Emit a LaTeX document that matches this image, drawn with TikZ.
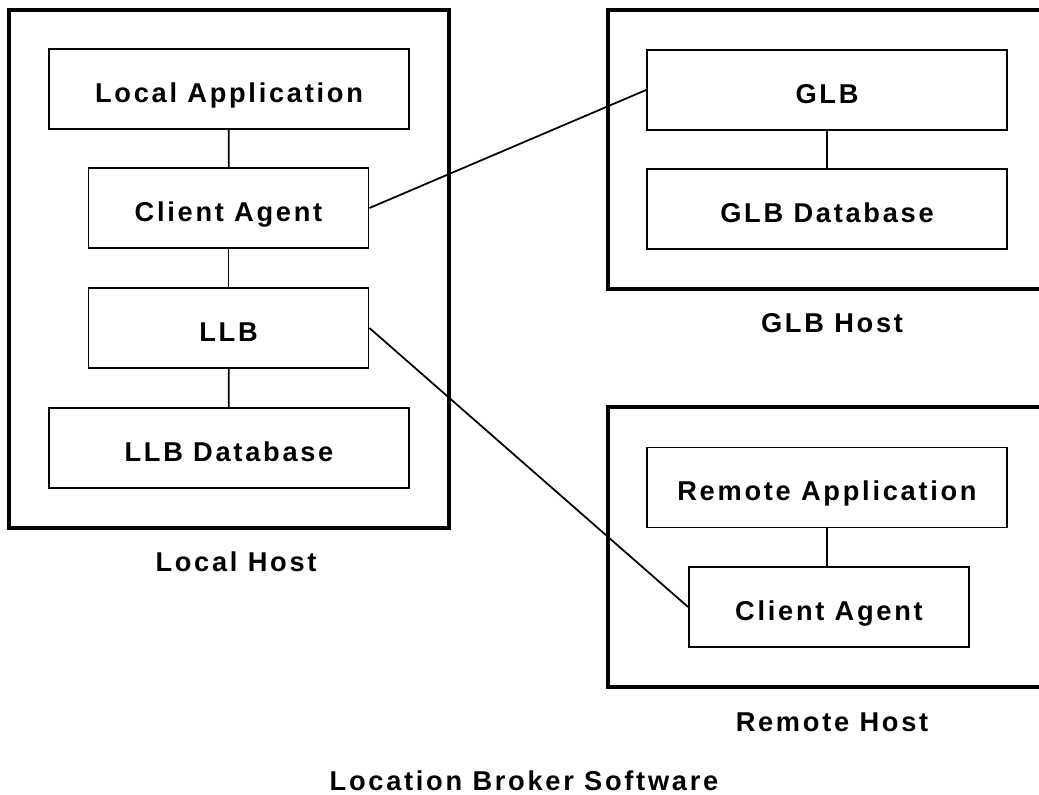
\documentclass[tikz,border=0pt]{standalone}
\usepackage{fontspec}
\setmainfont{Liberation Sans}[LetterSpace=10]
\usepackage{tikz}
\usetikzlibrary{calc}

\begin{document}
\begin{tikzpicture}[x=0.02cm, y=-0.02cm,
        blok/.style={draw, line width=1.1pt, minimum width=7.2cm, minimum height=1.6cm, inner sep=0pt, text height=15.3pt, text depth=0pt, font=\fontsize{15.5}{18}\selectfont\bfseries},
        blokkecil/.style={blok, minimum width=5.6cm},
        host/.style={line width=1.8pt},
        judul/.style={inner sep=0pt, font=\fontsize{15.5}{18}\selectfont\bfseries},
        garis/.style={line width=1pt}]
        %BATAS
        \clip (0,0) rectangle (1039,795);

        %LOCAL HOST
        \draw[host] (9,10) rectangle (449,528);
        \node[blok] (lapp) at (229,89) {Local Application};
        \node[blokkecil] (lca) at (228.5,208) {Client Agent};
        \node[blokkecil] (llb) at (228.5,328) {LLB};
        \node[blok] (lldb) at (229,448) {LLB Database};
        \node[judul] (lhost) at (236,562) {Local Host};

        %GLB HOST
        \draw[host] (608,10) rectangle (1080,289);
        \node[blok] (glb) at (827,90) {GLB};
        \node[blok] (glbdb) at (827,209) {GLB Database};
        \node[judul] (ghost) at (832,323) {GLB Host};

        %REMOTE HOST
        \draw[host] (608,407) rectangle (1080,687);
        \node[blok] (rapp) at (827,487.5) {Remote Application};
        \node[blokkecil] (rca) at (829,607) {Client Agent};
        \node[judul] (rhost) at (832,722) {Remote Host};

        %JUDUL
        \node[judul] (software) at (524,781) {Location Broker Software};

        %GARIS
        \draw[garis] (lapp) -- (lca);
        \draw[garis] (lca) -- (llb);
        \draw[garis] (llb) -- (lldb);
        \draw[garis] (glb) -- (glbdb);
        \draw[garis] (rapp.south) -- (rapp.south |- rca.north);
        \draw[garis] (lca.east) -- (glb.west);
        \draw[garis] (llb.east) -- (rca.west);
    \end{tikzpicture}
\end{document}
